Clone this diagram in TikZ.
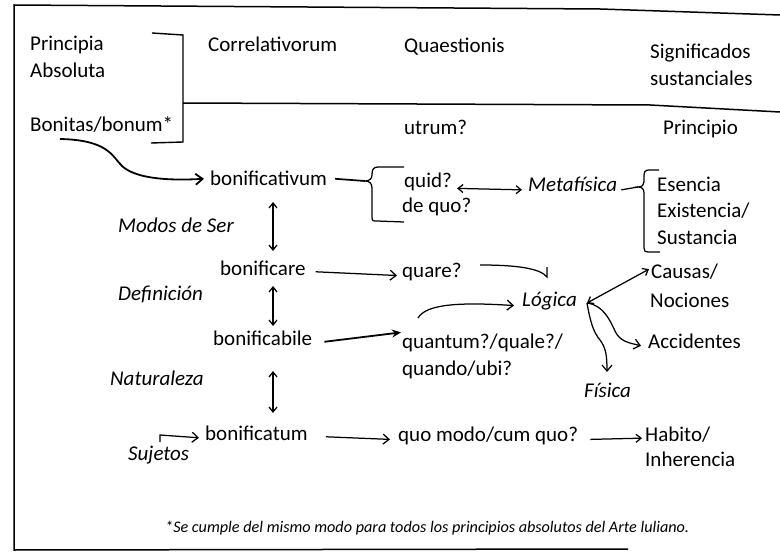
\documentclass[tikz,border=0pt]{standalone}
\usepackage{fontspec}
\setmainfont{Carlito}
\usetikzlibrary{arrows.meta}
\begin{document}
\begin{tikzpicture}[x=1pt,y=-1pt,
  txt/.style={anchor=base west,inner sep=0pt,font=\fontsize{21}{25}\selectfont},
  itx/.style={txt,font=\fontsize{21}{25}\selectfont\itshape},
  foot/.style={anchor=base west,inner sep=0pt,font=\fontsize{16.2}{19}\selectfont\itshape},
  frame/.style={line width=1.5pt},
  conn/.style={line width=1.25pt},
  thick conn/.style={line width=1.8pt},
  arr/.style={conn,-{Straight Barb[length=6pt,width=10pt]}},
  darr/.style={conn,{Straight Barb[length=5pt,width=8pt]}-{Straight Barb[length=5pt,width=8pt]}},
]
\useasboundingbox (0,0) rectangle (780,559);
% frame
\draw[frame] (780,15) -- (600,9) -- (14,5) -- (14,550) -- (628,549);
\draw[frame] (183,103) -- (650,105) -- (780,112);
\draw[conn,line width=1.4pt] (152,33) -- (183,35) -- (183,142) -- (151,143);

% headers
\node[txt] (pa1) at (30,51) {Principia};
\node[txt] (pa2) at (30,78) {Absoluta};
\node[txt] (bon) at (30,132) {Bonitas/bonum*};
\node[txt] (corr) at (208,52) {Correlativorum};
\node[txt] (quae) at (404,53) {Quaestionis};
\node[txt] (sig1) at (650,59) {Significados};
\node[txt] (sig2) at (650,86) {sustanciales};

% rows
\node[txt] (utrum) at (404,135) {utrum?};
\node[txt] (princ) at (663,135) {Principio};
\node[txt] (bva) at (210,186) {bonificativum};
\node[txt] (quid) at (404,188) {quid?};
\node[txt] (dequo) at (402,213) {de quo?};
\node[itx] (meta) at (528,192) {Metafísica};
\node[txt] (esen) at (657,192) {Esencia};
\node[txt] (exis) at (657,218) {Existencia/};
\node[txt] (sust) at (657,244) {Sustancia};
\node[itx] (modos) at (118,233) {Modos de Ser};
\node[txt] (bre) at (220,276) {bonificare};
\node[txt] (quare) at (402,277) {quare?};
\node[itx] (defi) at (118,301) {Definición};
\node[itx] (logi) at (522,306) {Lógica};
\node[txt] (caus) at (651,279) {Causas/};
\node[txt] (noci) at (650,307) {Nociones};
\node[txt] (bbile) at (213,345) {bonificabile};
\node[txt] (quan) at (402,348) {quantum?/quale?/};
\node[txt] (quan2) at (402,375) {quando/ubi?};
\node[txt] (acci) at (648,348) {Accidentes};
\node[itx] (fisi) at (584,397) {Física};
\node[itx] (natu) at (110,385) {Naturaleza};
\node[txt] (btum) at (205,440) {bonificatum};
\node[itx] (suje) at (128,460) {Sujetos};
\node[txt] (quom) at (398,441) {quo modo/cum quo?};
\node[txt] (habi) at (645,441) {Habito/};
\node[txt] (inhe) at (645,466) {Inherencia};
\node[foot] (fn) at (165,532) {*Se cumple del mismo modo para todos los principios absolutos del Arte luliano.};

% helper coordinates
\coordinate (b0) at (60,139);
\coordinate (brA) at (365,181);
\coordinate (brB) at (638,187);
\coordinate (lg) at (587,303);
\coordinate (suj0) at (160,442);
\coordinate (q0) at (480,265);
\coordinate (qend) at (547,277);
\coordinate (qbar) at (547,267);

% connectors
\draw[thick conn,-{Straight Barb[length=7pt,width=11pt]}] (b0) .. controls (108,140) and (112,156) .. (122,166) .. controls (135,178) and (165,181) .. ([xshift=-6pt]bva.west);
\draw[conn,line width=1.7pt] ([xshift=8pt]bva.east) -- (brA);
\draw[conn] (404,167) -- (378,167) .. controls (373,167) and (372,170) .. (372,175) .. controls (372,179) and (369,181) .. (brA) .. controls (369,181) and (372,183) .. (372,188) -- (372,217) .. controls (372,221) and (373,221) .. (377,221) -- (404,222);
\draw[darr] ([xshift=5pt,yshift=-6pt]quid.east) -- ([xshift=-6pt,yshift=-5pt]meta.west);
\draw[conn] ([xshift=4pt,yshift=-5pt]meta.east) -- (brB);
\draw[conn] (659,170) -- (649,170) .. controls (645,170) and (644,172) .. (644,176) -- (644,182) .. controls (644,185) and (642,187) .. (brB) .. controls (642,187) and (644,189) .. (644,193) -- (644,248) .. controls (644,251) and (645,252) .. (649,252) -- (660,252);
\draw[darr] (273,202) -- (273,251);
\draw[darr] (273,286) -- (273,326);
\draw[darr] (273,371) -- (273,413);
\draw[arr] ([xshift=10pt,yshift=-3pt]bre.east) -- ([xshift=-5pt,yshift=-4pt]quare.west);
\draw[conn] (q0) .. controls (515,265) and (540,268) .. (qend) -- (qbar);
\draw[thick conn,-{Stealth[length=9pt,width=8pt]}] ([xshift=12pt,yshift=-4pt]bbile.east) -- ([xshift=-1pt,yshift=10pt]quan.west);
\draw[arr] (418,318) .. controls (426,304) and (460,302) .. ([xshift=-8pt,yshift=-5pt]logi.west);
\draw[darr] (lg) -- ([xshift=-2pt,yshift=3pt]caus.west);
\draw[arr] (lg) .. controls (603,305) and (610,320) .. (615,331) .. controls (620,342) and (630,343) .. ([xshift=-7pt,yshift=-5pt]acci.west);
\draw[arr] (lg) .. controls (590,320) and (593,332) .. (600,340) .. controls (606,348) and (607,356) .. (607,372);
\draw[arr] (suj0) -- (160,435) -- ([xshift=-6pt,yshift=-5pt]btum.west);
\draw[arr] ([xshift=18pt,yshift=-4pt]btum.east) -- ([xshift=-8pt,yshift=-4pt]quom.west);
\draw[conn,-{Straight Barb[length=5pt,width=8pt]}] ([xshift=12pt,yshift=-4pt]quom.east) -- ([xshift=-3pt,yshift=-4pt]habi.west);
\end{tikzpicture}
\end{document}
